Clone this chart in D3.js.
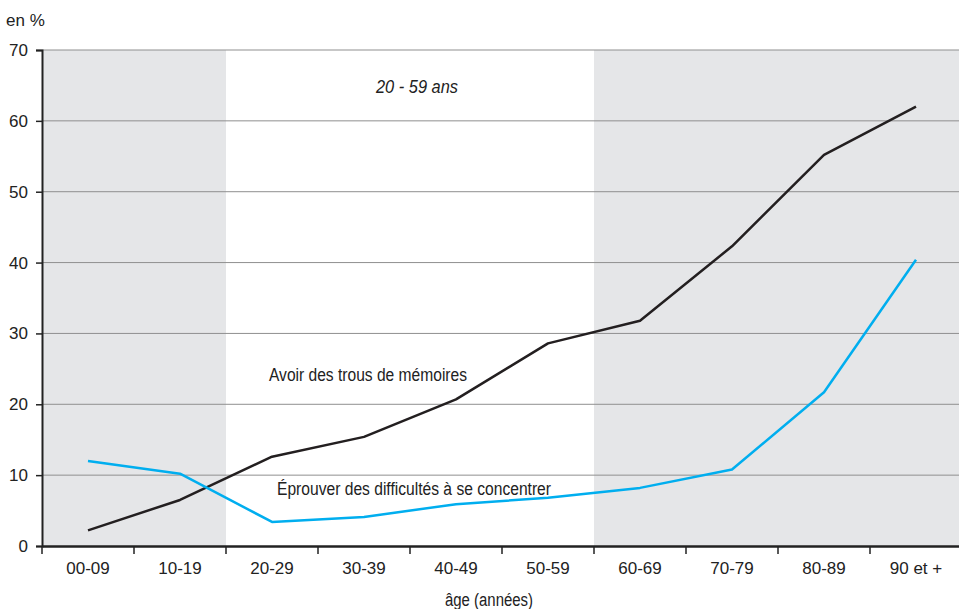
<!DOCTYPE html>
<html><head><meta charset="utf-8">
<script src="https://cdn.jsdelivr.net/npm/d3@7"></script>
<style>
body{margin:0;background:#fff;}
text{font-family:"Liberation Sans Narrow","Liberation Sans",sans-serif;fill:#222;}
</style></head>
<body><svg id="c" width="959" height="609"></svg>
<script>
const categories = ["00-09","10-19","20-29","30-39","40-49","50-59","60-69","70-79","80-89","90 et +"];
const memoire = [2.2, 6.5, 12.6, 15.4, 20.7, 28.6, 31.8, 42.3, 55.2, 62.0];
const concentrer = [12.0, 10.2, 3.4, 4.1, 5.9, 6.8, 8.2, 10.8, 21.7, 40.4];
const yTicks = [0,10,20,30,40,50,60,70];
const shadedRanges = [["00-09","10-19"],["60-69","90 et +"]];

const svg = d3.select("#c");
const m = {l:42, t:50, b:63};
const W = 920, H = 609 - m.t - m.b;
const x = d3.scaleBand().domain(categories).range([m.l, m.l+W]);
const y = d3.scaleLinear().domain([0,70]).range([m.t+H, m.t]);

// shaded bands
shadedRanges.forEach(([a,b])=>{
  svg.append("rect").attr("x", x(a)).attr("y", y(70))
    .attr("width", x(b)+x.bandwidth()-x(a)).attr("height", y(0)-y(70))
    .attr("fill","#e5e6e8");
});
// gridlines
svg.append("g").selectAll("line").data(yTicks.filter(d=>d>0)).join("line")
  .attr("x1", m.l).attr("x2", m.l+W).attr("y1", d=>y(d)).attr("y2", d=>y(d))
  .attr("stroke","#8f8f8f").attr("stroke-width",1);

// y axis
const ya = svg.append("g").attr("transform",`translate(${m.l},0)`)
  .call(d3.axisLeft(y).tickValues(yTicks).tickSize(6).tickPadding(8));
ya.select(".domain").attr("stroke","#222").attr("stroke-width",2);
ya.selectAll(".tick line").attr("stroke","#222").attr("stroke-width",1.5);
ya.selectAll(".tick text").attr("font-size",17).attr("fill","#222")
  .style("font-family",'"Liberation Sans Narrow","Liberation Sans",sans-serif');

// x axis
const xa = svg.append("g").attr("transform",`translate(0,${y(0)})`)
  .call(d3.axisBottom(x).tickSize(0).tickPadding(16));
xa.select(".domain").attr("stroke","#222").attr("stroke-width",2.5);
xa.selectAll(".tick text").attr("font-size",17).attr("fill","#222")
  .style("font-family",'"Liberation Sans Narrow","Liberation Sans",sans-serif');
svg.append("g").selectAll("line").data(categories).join("line")
  .attr("x1", d=>x(d)).attr("x2", d=>x(d)).attr("y1", y(0)).attr("y2", y(0)+8)
  .attr("stroke","#222").attr("stroke-width",1.5);

// lines
const line = d3.line().x((d,i)=>x(categories[i])+x.bandwidth()/2).y(d=>y(d));
svg.append("path").datum(memoire).attr("d",line).attr("fill","none")
  .attr("stroke","#231f20").attr("stroke-width",2.5).attr("stroke-linejoin","round");
svg.append("path").datum(concentrer).attr("d",line).attr("fill","none")
  .attr("stroke","#00aeef").attr("stroke-width",2.5).attr("stroke-linejoin","round");

// texts
function label(xp, yp, txt, len, opts={}){
  const t = svg.append("text").attr("x",xp).attr("y",yp).attr("font-size",opts.size||18)
    .attr("textLength",len).attr("lengthAdjust","spacingAndGlyphs").text(txt);
  if(opts.italic) t.attr("font-style","italic");
  return t;
}
svg.append("text").attr("x",6).attr("y",26).attr("font-size",17).text("en %");
label(376, 93, "20 - 59 ans", 82, {italic:true});
label(269, 381, "Avoir des trous de mémoires", 198);
label(277, 495, "Éprouver des difficultés à se concentrer", 274);
label(445, 606, "âge (années)", 88);
</script></body></html>
